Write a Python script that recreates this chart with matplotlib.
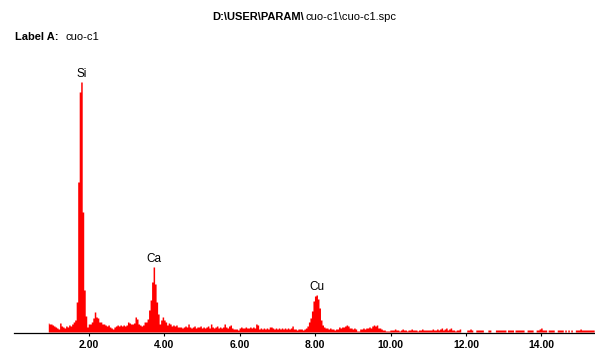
# -*- coding: utf-8 -*-
"""
EDS spectrum of sample cuo-c1 (Si, Ca, Cu lines)
"""

import matplotlib.pyplot as plt
import numpy as np

# Spectrum: channel energies (keV) start/step and counts per channel
e_start = 0.92
e_step = 0.04
counts = [
    9, 8, 8,
    7, 6, 5, 4, 3, 9, 6, 5, 4, 6,
    5, 7, 6, 8, 10, 12, 30,
    150, 240, 250, 120, 42, 16, 5,                      # Si
    8, 8, 10, 14, 20, 15, 14, 10, 10, 8, 8,
    7, 6, 7, 5, 4, 3, 5, 6, 7, 6, 7, 6, 7, 6, 7,
    10, 9, 8, 8, 9, 15, 13, 8, 7, 6, 7, 10,
    10, 13, 22, 32, 50, 65, 48, 30, 18, 8,              # Ca
    12, 15, 12, 10, 7, 9, 8, 6, 7, 6, 7, 5, 5,
    5, 4, 5, 6, 5, 8, 5, 4, 5, 6, 4, 5, 5, 6, 4, 5, 4, 5,
    6, 4, 8, 5, 4, 5, 6, 4, 5, 4, 5, 8, 5, 4, 6, 7, 4, 3,
    3, 3, 2, 4, 5, 4, 4, 5, 4, 4, 5, 4, 5, 4, 8, 7, 3, 4,
    3, 4, 3, 4, 3, 5, 5, 4, 3, 4, 3, 4, 3, 4, 3, 4, 3, 4,
    3, 4, 6, 3, 3, 2, 3, 3, 3, 2, 3, 4, 6,
    10, 14, 21, 31, 36, 37, 33, 24, 12, 7, 5,           # Cu
    4, 4, 3, 4, 3, 3, 2, 3, 3, 5, 4, 5, 5, 6, 7, 6, 4, 4,
    3, 4, 3, 1, 1, 3,
    3, 4, 3, 4, 4, 5, 4, 6, 7, 6, 7, 4, 4, 3, 2, 2, 1, 1, 1, 2,
    2, 2, 3, 2, 2, 1, 2, 3, 2, 2, 1, 2, 2, 3, 2, 2, 2, 1, 2, 2,
    3, 2, 2, 2, 2,
    2, 2, 3, 2, 2, 3, 2, 3, 4, 2, 3, 4, 2, 3, 4, 2, 2, 1, 2, 2,
    3, 0, 0, 0, 0, 2, 2, 3, 2, 0, 0, 2, 2, 2, 2, 2, 0, 0, 0, 2,
    2, 0, 0, 0, 2, 2, 2, 2, 2, 2, 2, 0, 2, 2, 2, 2, 0, 2, 2, 2,
    2, 2, 2, 0, 0, 2, 2, 2, 2, 0, 0, 2, 2, 3, 4, 2, 2, 2, 0, 2,
    2, 2, 2, 0, 0, 2, 2, 2, 2, 0, 2, 0, 2, 0, 2, 0, 0, 2, 2, 2,
    3, 2, 2, 2, 2, 2, 2, 2, 2, 2,
]
counts = np.array(counts)
energy = np.round(e_start + e_step*np.arange(len(counts)), 2)

# Peak identification
peak_names = ['Si', 'Ca', 'Cu']
peak_energy = [1.80, 3.72, 8.04]

x_ticks = [2, 4, 6, 8, 10, 12, 14]
x_ticklabels = ['2.00', '4.00', '6.00', '8.00', '10.00', '12.00', '14.00']

title_bold = 'D:\\USER\\PARAM\\'
title_rest = 'cuo-c1\\cuo-c1.spc'
label_bold = 'Label A:'
label_rest = 'cuo-c1'

#_____________________       PLOTTING      ____________________________________
W, H = 595, 354
fig = plt.figure(figsize=(W/100, H/100), dpi=100, facecolor='w')
plt.rcParams['font.family'] = ['Liberation Sans', 'DejaVu Sans']

# axes: x=0 keV at 13.6 px, baseline at y=333 px (1 count ~ 1 px)
ax = fig.add_axes([13.6/W, 21/H, (W-13.6)/W, 283/H])
ax.fill_between(energy, counts, step='mid', color='#ff0000', lw=0)
ax.set_xlim(0, (W-13.6)/37.7)
ax.set_ylim(-1, 282)

for s in ['top', 'right', 'left']:
    ax.spines[s].set_visible(False)
ax.spines['bottom'].set_linewidth(0.9)
ax.set_yticks([])
ax.set_xticks(x_ticks)
ax.set_xticklabels(x_ticklabels, fontsize=7.5, fontweight='bold')
ax.tick_params(axis='x', direction='out', length=2.5, width=0.8, pad=2.5)

for name, e in zip(peak_names, peak_energy):
    top = counts[np.argmin(np.abs(energy - e))]
    ax.annotate(name, xy=(e, top), xytext=(0, 1.5), textcoords='offset points',
                ha='center', va='bottom', fontsize=8.5)

fig.text(304/W, 1-17/H, title_bold, ha='right', va='center', fontsize=8,
         fontweight='bold')
fig.text(305/W, 1-17/H, title_rest, ha='left', va='center', fontsize=8)
fig.text(15/W, 1-37/H, label_bold, ha='left', va='center', fontsize=8,
         fontweight='bold')
fig.text(66/W, 1-37/H, label_rest, ha='left', va='center', fontsize=8)

fig.savefig('out.png', dpi=100)
